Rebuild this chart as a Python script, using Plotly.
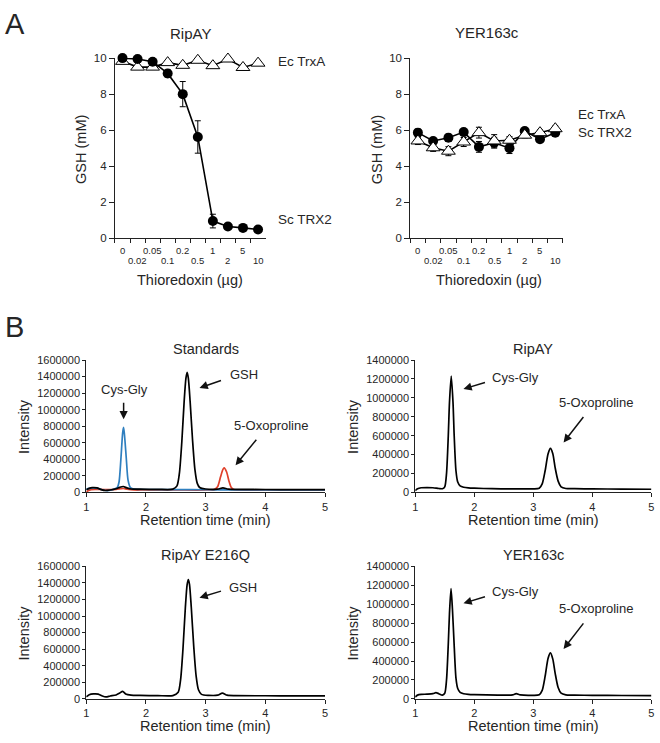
import plotly.graph_objects as go

FONT = "Liberation Sans, Arial, sans-serif"
TXT = "#262626"

# ---------------- Panel A data ----------------
doses = ["0", "0.02", "0.05", "0.1", "0.2", "0.5", "1", "2", "5", "10"]

ripay_sc_trx2 = [10.0, 9.95, 9.8, 9.15, 8.0, 5.62, 0.95, 0.65, 0.57, 0.48]
ripay_sc_trx2_err = [0.05, 0.05, 0.1, 0.2, 0.7, 0.9, 0.38, 0.1, 0.08, 0.08]
ripay_ec_trxa = [9.82, 9.5, 9.5, 9.75, 9.6, 9.88, 9.58, 9.95, 9.48, 9.72]
ripay_ec_trxa_err = [0.1, 0.1, 0.1, 0.1, 0.1, 0.1, 0.1, 0.1, 0.1, 0.1]

yer_sc_trx2 = [5.86, 5.4, 5.58, 5.89, 5.07, 5.3, 5.0, 5.95, 5.5, 5.86]
yer_sc_trx2_err = [0.2, 0.15, 0.2, 0.15, 0.3, 0.3, 0.3, 0.15, 0.15, 0.15]
yer_ec_trxa = [5.4, 5.02, 4.83, 5.34, 5.86, 5.4, 5.44, 5.72, 5.86, 6.08]
yer_ec_trxa_err = [0.2, 0.2, 0.25, 0.25, 0.3, 0.35, 0.2, 0.15, 0.15, 0.15]

# ---------------- Panel B data (retention time, intensity) ----------------
std_gsh_t = [1.00, 1.05, 1.10, 1.18, 1.25, 1.32, 1.40, 1.50, 1.56, 1.62, 1.68, 1.75, 1.90, 2.20,
             2.45, 2.52, 2.56, 2.60, 2.64, 2.67, 2.69, 2.71, 2.74, 2.78, 2.82, 2.86, 2.90, 3.00,
             3.20, 3.29, 3.38, 3.60, 4.00, 4.50, 5.00]
std_gsh_i = [32000, 50000, 58000, 55000, 35000, 24000, 30000, 45000, 62000, 72000, 55000, 42000,
             40000, 38000, 40000, 80000, 230000, 600000, 1100000, 1380000, 1450000, 1380000,
             1100000, 640000, 280000, 110000, 60000, 42000, 40000, 55000, 40000, 37000, 36000,
             35000, 34000]

std_cysgly_t = [1.00, 1.05, 1.12, 1.20, 1.28, 1.35, 1.42, 1.48, 1.52, 1.55, 1.58, 1.61, 1.625,
                1.64, 1.67, 1.70, 1.74, 1.78, 1.85, 2.00, 2.50, 3.00, 3.50, 4.00, 5.00]
std_cysgly_i = [40000, 50000, 55000, 48000, 30000, 22000, 30000, 45000, 60000, 130000, 400000,
                720000, 786000, 700000, 420000, 150000, 60000, 45000, 38000, 36000, 34000,
                33000, 32000, 31000, 30000]

std_oxo_t = [1.00, 1.03, 1.08, 1.15, 1.30, 1.50, 1.58, 1.62, 1.68, 1.80, 2.00, 2.50, 3.00, 3.14,
             3.20, 3.25, 3.29, 3.31, 3.35, 3.39, 3.43, 3.47, 3.55, 4.00, 5.00]
std_oxo_i = [0, 20000, 35000, 38000, 35000, 38000, 45000, 48000, 40000, 30000, 30000, 30000,
             30000, 35000, 70000, 190000, 280000, 298000, 250000, 140000, 60000, 35000, 30000,
             30000, 30000]

ripay_t = [1.00, 1.04, 1.10, 1.20, 1.30, 1.40, 1.46, 1.50, 1.53, 1.56, 1.58, 1.61, 1.64, 1.66,
           1.69, 1.72, 1.76, 1.82, 1.90, 2.00, 2.30, 2.60, 3.00, 3.10, 3.15, 3.20, 3.25, 3.29,
           3.33, 3.37, 3.42, 3.47, 3.55, 3.70, 4.00, 4.50, 5.00]
ripay_i = [20000, 40000, 50000, 52000, 50000, 42000, 40000, 60000, 200000, 600000, 950000,
           1231000, 950000, 600000, 230000, 110000, 70000, 55000, 48000, 45000, 40000, 38000,
           38000, 45000, 90000, 230000, 410000, 466000, 410000, 260000, 120000, 60000, 42000,
           40000, 38000, 36000, 34000]

e216q_t = [1.00, 1.05, 1.12, 1.20, 1.27, 1.33, 1.40, 1.50, 1.56, 1.61, 1.66, 1.75, 1.90, 2.20,
           2.45, 2.54, 2.58, 2.62, 2.66, 2.69, 2.71, 2.73, 2.76, 2.80, 2.84, 2.88, 2.93, 3.05,
           3.20, 3.28, 3.36, 3.50, 4.00, 4.50, 5.00]
e216q_i = [25000, 50000, 60000, 58000, 35000, 24000, 35000, 48000, 70000, 92000, 60000, 45000,
           42000, 40000, 40000, 80000, 230000, 600000, 1100000, 1380000, 1441000, 1380000,
           1100000, 640000, 280000, 110000, 55000, 43000, 45000, 70000, 45000, 40000, 38000,
           37000, 36000]

yer_t = [1.00, 1.04, 1.10, 1.20, 1.30, 1.35, 1.40, 1.46, 1.50, 1.53, 1.56, 1.58, 1.606, 1.63,
         1.66, 1.69, 1.72, 1.76, 1.82, 1.90, 2.00, 2.40, 2.65, 2.71, 2.78, 3.00, 3.10, 3.15, 3.20,
         3.25, 3.29, 3.33, 3.37, 3.42, 3.47, 3.55, 3.70, 4.00, 4.50, 5.00]
yer_i = [20000, 40000, 48000, 50000, 55000, 66000, 55000, 40000, 60000, 200000, 580000, 900000,
         1165000, 950000, 560000, 220000, 110000, 70000, 55000, 48000, 45000, 40000, 42000,
         55000, 42000, 38000, 45000, 90000, 240000, 430000, 486000, 420000, 270000, 120000,
         60000, 42000, 40000, 38000, 36000, 34000]

BLUE = "#2f7fbf"
RED = "#e0412b"

fig = go.Figure()

# ---------- Panel A traces ----------
def add_a(xa, ya, sc, sc_err, ec, ec_err, circles_on_top):
    circ = go.Scatter(x=doses, y=sc, mode="lines+markers", xaxis=xa, yaxis=ya,
                      line=dict(color="black", width=1.6),
                      marker=dict(symbol="circle", size=10, color="black"),
                      error_y=dict(type="data", array=sc_err, color="black", thickness=1, width=3),
                      cliponaxis=False, name="Sc TRX2")
    tri = go.Scatter(x=doses, y=ec, mode="lines+markers", xaxis=xa, yaxis=ya,
                     line=dict(color="black", width=1.6),
                     marker=dict(symbol="triangle-up", size=12, color="white",
                                 line=dict(color="black", width=1)),
                     error_y=dict(type="data", array=ec_err, color="black", thickness=1, width=3),
                     cliponaxis=False, name="Ec TrxA")
    if circles_on_top:
        fig.add_trace(tri); fig.add_trace(circ)
    else:
        fig.add_trace(circ); fig.add_trace(tri)

add_a("x", "y", ripay_sc_trx2, ripay_sc_trx2_err, ripay_ec_trxa, ripay_ec_trxa_err, True)
add_a("x2", "y2", yer_sc_trx2, yer_sc_trx2_err, yer_ec_trxa, yer_ec_trxa_err, False)

# ---------- Panel B traces ----------
def chrom(xa, ya, t, i, color):
    fig.add_trace(go.Scatter(x=t, y=i, mode="lines", xaxis=xa, yaxis=ya,
                             line=dict(color=color, width=1.7, shape="spline", smoothing=0.7),
                             cliponaxis=True, showlegend=False))

chrom("x3", "y3", std_oxo_t, std_oxo_i, RED)
chrom("x3", "y3", std_cysgly_t, std_cysgly_i, BLUE)
chrom("x3", "y3", std_gsh_t, std_gsh_i, "black")
chrom("x4", "y4", ripay_t, ripay_i, "black")
chrom("x5", "y5", e216q_t, e216q_i, "black")
chrom("x6", "y6", yer_t, yer_i, "black")

# ---------- Layout ----------
axA_x = dict(type="category", range=[-0.5, 9.5], tickson="boundaries", ticks="outside",
             ticklen=4, tickcolor="#222", showticklabels=False, showline=True,
             linecolor="#222", linewidth=1, showgrid=False, zeroline=False, fixedrange=True)
axA_y = dict(range=[0, 10], tickvals=[0, 2, 4, 6, 8, 10], ticks="outside", ticklen=5,
             tickcolor="#222", showline=True, linecolor="#222", linewidth=1, showgrid=False,
             zeroline=False, tickfont=dict(family=FONT, size=11.5, color=TXT))

axB_x = dict(range=[1, 5], tickvals=[1, 2, 3, 4, 5], ticks="outside", ticklen=4,
             tickcolor="#222", showline=True, linecolor="#222", linewidth=1, showgrid=False,
             zeroline=False, ticklabeloverflow="allow",
             tickfont=dict(family=FONT, size=11, color=TXT))

def axB_y(top):
    return dict(range=[0, top], dtick=200000, ticks="outside", ticklen=3, tickcolor="#222",
                showline=True, linecolor="#222", linewidth=1, showgrid=False, zeroline=False,
                tickformat="d", tickfont=dict(family=FONT, size=11, color=TXT))

A_y = [0.6824, 0.9287]
BT_y = [0.3345, 0.5157]
BB_y = [0.0521, 0.2335]
L_x = [0.1273, 0.4924]
R_x = [0.6303, 0.9915]

fig.update_layout(
    width=660, height=743, margin=dict(l=0, r=0, t=0, b=0),
    paper_bgcolor="white", plot_bgcolor="white", showlegend=False,
    font=dict(family=FONT, color=TXT),
    xaxis=dict(axA_x, domain=[0.1712, 0.4015], anchor="y"),
    yaxis=dict(axA_y, domain=A_y, anchor="x"),
    xaxis2=dict(axA_x, domain=[0.6227, 0.8561], anchor="y2"),
    yaxis2=dict(axA_y, domain=A_y, anchor="x2"),
    xaxis3=dict(axB_x, domain=L_x, anchor="y3"),
    yaxis3=dict(axB_y(1600000), domain=BT_y, anchor="x3"),
    xaxis4=dict(axB_x, domain=R_x, anchor="y4"),
    yaxis4=dict(axB_y(1400000), domain=BT_y, anchor="x4"),
    xaxis5=dict(axB_x, domain=L_x, anchor="y5"),
    yaxis5=dict(axB_y(1600000), domain=BB_y, anchor="x5"),
    xaxis6=dict(axB_x, domain=R_x, anchor="y6"),
    yaxis6=dict(axB_y(1400000), domain=BB_y, anchor="x6"),
)

ann = []

def ptext(x, y, text, size, **kw):
    d = dict(x=x, y=y, xref="paper", yref="paper", text=text, showarrow=False,
             font=dict(family=FONT, size=size, color=TXT), xanchor="center", yanchor="middle")
    d.update(kw)
    ann.append(d)

def py(px):
    return 1 - px / 743.0

def pxx(px):
    return px / 660.0

# panel letters
ptext(pxx(12), py(18), "A", 29)
ptext(pxx(12), py(326), "B", 29)

# Panel A titles / axis labels
ptext(pxx(189), py(28), "RipAY", 15)
ptext(pxx(488), py(27), "YER163c", 15)
ptext(pxx(189), py(278), "Thioredoxin (µg)", 14.5)
ptext(pxx(490), py(278), "Thioredoxin (µg)", 14.5)
ptext(pxx(78), py(146), "GSH (mM)", 14.5, textangle=-90)
ptext(pxx(377), py(146), "GSH (mM)", 14.5, textangle=-90)

# Panel A x tick labels (two staggered rows)
for xa, ya in (("x", "y"), ("x2", "y2")):
    for k, lab in enumerate(doses):
        ann.append(dict(x=k, y=0, xref=xa, yref=ya + " domain", text=lab, showarrow=False,
                        font=dict(family=FONT, size=9.5, color=TXT), xanchor="center",
                        yanchor="middle", yshift=(-12 if k % 2 == 0 else -22)))

# Panel A series labels
ann.append(dict(x=1.0, y=9.84, xref="x domain", yref="y", xshift=10, text="Ec TrxA",
                showarrow=False, xanchor="left", font=dict(family=FONT, size=13.5, color=TXT)))
ann.append(dict(x=1.0, y=1.06, xref="x domain", yref="y", xshift=10, text="Sc TRX2",
                showarrow=False, xanchor="left", font=dict(family=FONT, size=13.5, color=TXT)))
ann.append(dict(x=1.0, y=6.86, xref="x2 domain", yref="y2", xshift=13, text="Ec TrxA",
                showarrow=False, xanchor="left", font=dict(family=FONT, size=13.5, color=TXT)))
ann.append(dict(x=1.0, y=5.86, xref="x2 domain", yref="y2", xshift=13, text="Sc TRX2",
                showarrow=False, xanchor="left", font=dict(family=FONT, size=13.5, color=TXT)))

# Panel B titles / axis labels
ptext(pxx(204.5), py(349), "Standards", 14.5)
ptext(pxx(535), py(349), "RipAY", 14.5)
ptext(pxx(204.5), py(558), "RipAY E216Q", 14.5)
ptext(pxx(535), py(558), "YER163c", 14.5)
ptext(pxx(204.5), py(522), "Retention time (min)", 14.5)
ptext(pxx(535), py(522), "Retention time (min)", 14.5)
ptext(pxx(204.5), py(732), "Retention time (min)", 14.5)
ptext(pxx(535), py(732), "Retention time (min)", 14.5)
ptext(pxx(21), py(427), "Intensity", 14.5, textangle=-90)
ptext(pxx(353), py(427), "Intensity", 14.5, textangle=-90)
ptext(pxx(21), py(637), "Intensity", 14.5, textangle=-90)
ptext(pxx(353), py(637), "Intensity", 14.5, textangle=-90)

# Peak labels and arrows (data coordinates)
def label(xa, ya, x, y, text):
    ann.append(dict(x=x, y=y, xref=xa, yref=ya, text=text, showarrow=False,
                    font=dict(family=FONT, size=13, color=TXT), xanchor="center",
                    yanchor="middle"))

def arrow(xa, ya, x, y, ax, ay):
    ann.append(dict(x=x, y=y, xref=xa, yref=ya, text="", showarrow=True, ax=ax, ay=ay,
                    arrowhead=2, arrowsize=1.1, arrowwidth=1.5, arrowcolor="#111"))

label("x3", "y3", 1.647, 1243000, "Cys-Gly")
arrow("x3", "y3", 1.626, 885000, 0, -18)
label("x3", "y3", 3.639, 1421000, "GSH")
arrow("x3", "y3", 2.897, 1263000, 23, -8)
label("x3", "y3", 4.087, 814000, "5-Oxoproline")
arrow("x3", "y3", 3.501, 329000, 22, -27)

label("x4", "y4", 2.705, 1218000, "Cys-Gly")
arrow("x4", "y4", 1.817, 1094000, 23, -7)
label("x4", "y4", 4.067, 949000, "5-Oxoproline")
arrow("x4", "y4", 3.512, 528000, 21, -27)

label("x5", "y5", 3.634, 1350000, "GSH")
arrow("x5", "y5", 2.897, 1222000, 23, -7)

label("x6", "y6", 2.705, 1131000, "Cys-Gly")
arrow("x6", "y6", 1.817, 1010000, 23, -7)
label("x6", "y6", 4.067, 958000, "5-Oxoproline")
arrow("x6", "y6", 3.512, 528000, 21, -27)

fig.update_layout(annotations=ann)

# remove the default page margin so the 660x743 figure fills the window exactly
fig.write_html(
    "out.html",
    config={"displayModeBar": False},
    post_script="document.body.style.margin='0px';document.body.style.overflow='hidden';",
)
